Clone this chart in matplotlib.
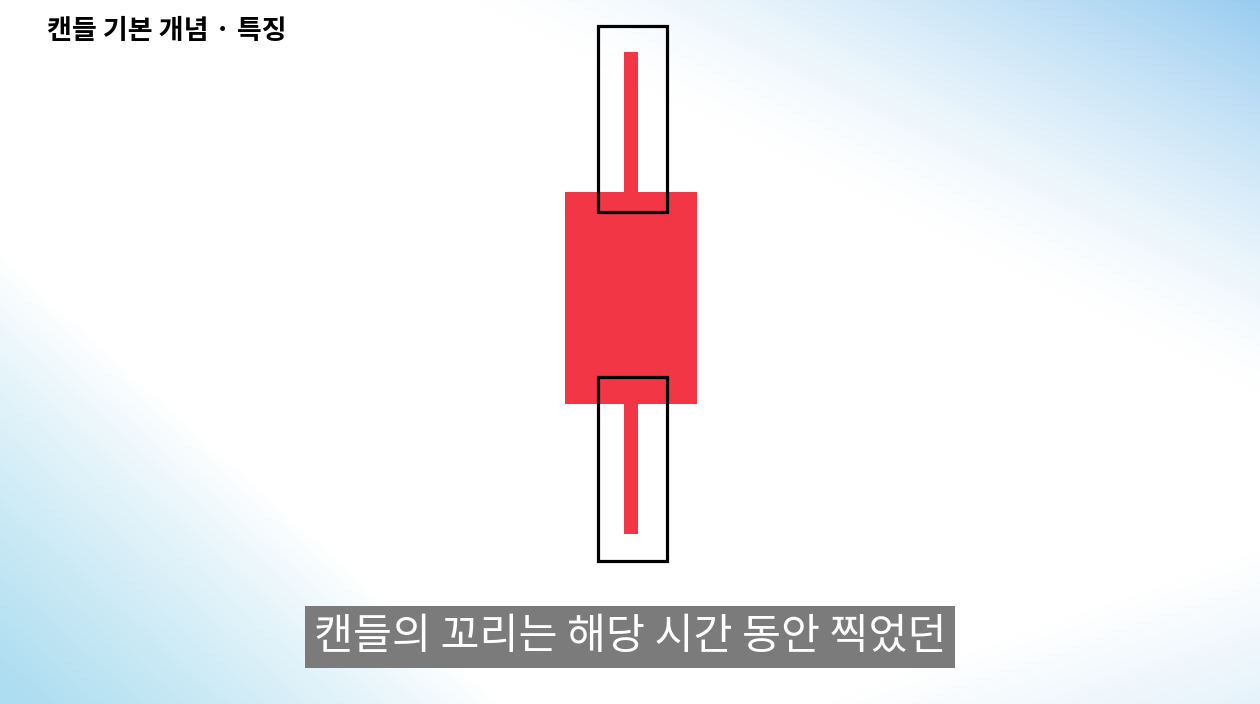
import numpy as np
import matplotlib.pyplot as plt
from matplotlib.patches import Rectangle

plt.rcParams['font.family'] = ['Noto Sans CJK KR', 'DejaVu Sans']

# one candle (open, high, low, close)
candle_open = [27.0]
candle_high = [100.0]
candle_low = [0.0]
candle_close = [71.0]
candle_x = [0]

title = "캔들 기본 개념 · 특징"
subtitle = "캔들의 꼬리는 해당 시간 동안 찍었던"

W, H = 1260, 704
fig = plt.figure(figsize=(W / 100, H / 100), dpi=100)

# background: white with soft blue corners
yy, xx = np.mgrid[0:H, 0:W].astype(float)
t1 = np.clip((0.5 * xx - yy - 235) / 395, 0, 1) ** 1.4
t2 = np.clip((yy - 0.9 * xx - 255) / 430, 0, 1) ** 0.9
t3 = np.clip((yy + 0.35 * xx - 990) / 155, 0, 1) * 0.25
c1 = np.array([152, 204, 240]) / 255
c2 = np.array([172, 221, 240]) / 255
img = np.ones((H, W, 3))
img = img * (1 - t1[..., None]) + c1 * t1[..., None]
img = img * (1 - t2[..., None]) + c2 * t2[..., None]
img = img * (1 - t3[..., None]) + c1 * t3[..., None]
bg = fig.add_axes([0, 0, 1, 1])
bg.imshow(img, aspect='auto', extent=(0, W, H, 0))
bg.axis('off')

ax = fig.add_axes([0, 0, 1, 1])
ax.patch.set_alpha(0)
ax.set_xlim(-2.868, 2.859)
ax.set_ylim(-35.3, 110.8)
ax.axis('off')

red = '#F23645'
body_w = 0.6
wick_w = 0.064
for x, o, h, l, c in zip(candle_x, candle_open, candle_high, candle_low, candle_close):
    ax.bar(x, h - l, bottom=l, width=wick_w, color=red, zorder=2)
    ax.bar(x, abs(c - o), bottom=min(o, c), width=body_w, color=red, zorder=3)
    # highlight boxes around both wicks
    bw = 0.314
    top, bot = max(o, c), min(o, c)
    ax.add_patch(Rectangle((x - bw / 2 + 0.007, top - 4.1), bw, h + 5.5 - (top - 4.1),
                           fill=False, edgecolor='black', lw=2.3, zorder=4))
    ax.add_patch(Rectangle((x - bw / 2 + 0.007, l - 5.6), bw, bot + 5.5 - (l - 5.6),
                           fill=False, edgecolor='black', lw=2.3, zorder=4))

fig.text(47 / W, 1 - 31 / H, title, fontsize=19.5, fontweight='bold',
         ha='left', va='center', color='black')

fig.patches.append(Rectangle((305 / W, 1 - 668 / H), 650 / W, 62 / H,
                             transform=fig.transFigure, facecolor='#7b7b7b',
                             edgecolor='none', zorder=5))
fig.text(630 / W, 1 - 637 / H, subtitle, fontsize=30.5, fontweight='light',
         color='white', ha='center', va='center', zorder=6)

fig.savefig('out.png', dpi=100)
